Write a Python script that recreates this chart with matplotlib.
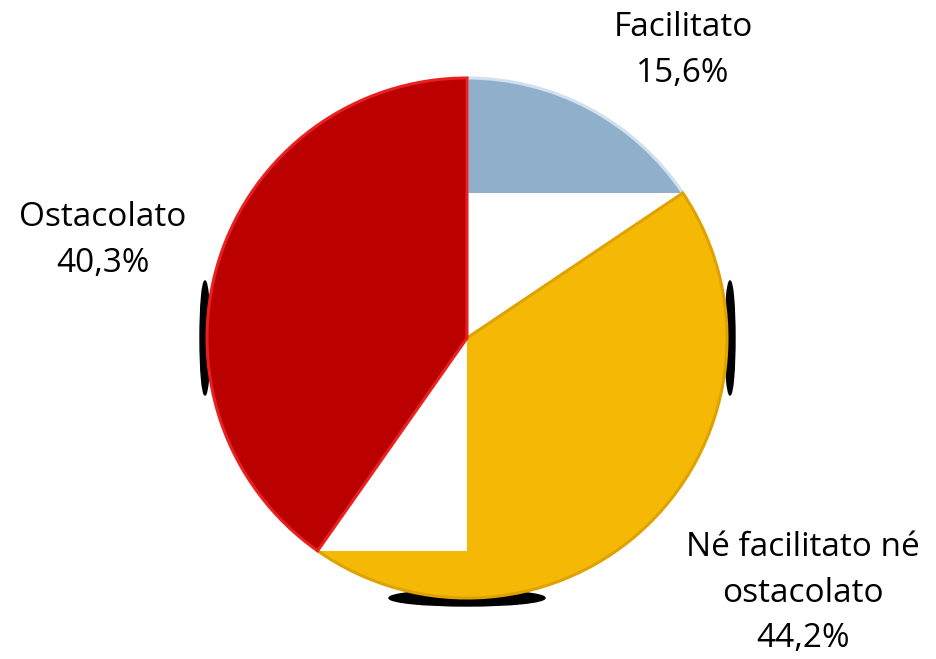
import numpy as np
import matplotlib.pyplot as plt
from matplotlib.patches import Rectangle, Ellipse

# data
labels = ['Facilitato', 'Né facilitato né\nostacolato', 'Ostacolato']
values = [15.6, 44.2, 40.3]
pct_text = ['15,6%', '44,2%', '40,3%']
colors = ['#8FAFCA', '#F5B805', '#BA0000']
edge_colors = ['#CFE0EF', '#E0A200', '#E82020']

plt.rcParams['font.family'] = ['Open Sans', 'DejaVu Sans']

fig = plt.figure(figsize=(9.37, 6.59), dpi=100)
ax = fig.add_axes([0, 0, 1, 1])

cx, cy, r = 467, 321, 260

# shadow slivers peeking out behind the pie
ax.add_patch(Ellipse((cx - r - 2, cy), 10, 114, color='black', zorder=0.5))
ax.add_patch(Ellipse((cx + r + 3, cy), 10, 114, color='black', zorder=0.5))
ax.add_patch(Ellipse((cx, cy - r), 156, 16, color='black', zorder=0.5))

wedges, _ = ax.pie(values, colors=colors, startangle=90, counterclock=False,
                   center=(cx, cy), radius=r, frame=True,
                   wedgeprops=dict(linewidth=2.2))

for i, w in enumerate(wedges):
    w.set_edgecolor(edge_colors[i])
    w.set_zorder(1 + i)
    # white block left over from the bevel rendering (cuts the wedge to its end point)
    if i < 2:
        t = np.deg2rad(w.theta1)
        ex, ey = r * np.cos(t), r * np.sin(t)
        ax.add_patch(Rectangle((cx + min(ex, 0), cy + min(ey, 0)), abs(ex), abs(ey),
                               facecolor='white', edgecolor='none', zorder=1.5 + i))

fs = 24
ls = 1.5
ax.text(683, 577, labels[0] + '\n' + pct_text[0], ha='center', va='baseline',
        fontsize=fs, linespacing=ls)
ax.text(803, 12, labels[1] + '\n' + pct_text[1], ha='center', va='baseline',
        fontsize=fs, linespacing=ls)
ax.text(103, 387, labels[2] + '\n' + pct_text[2], ha='center', va='baseline',
        fontsize=fs, linespacing=ls)

ax.set_xlim(0, 937)
ax.set_ylim(0, 659)
ax.axis('off')

fig.savefig('out.png', dpi=100)
